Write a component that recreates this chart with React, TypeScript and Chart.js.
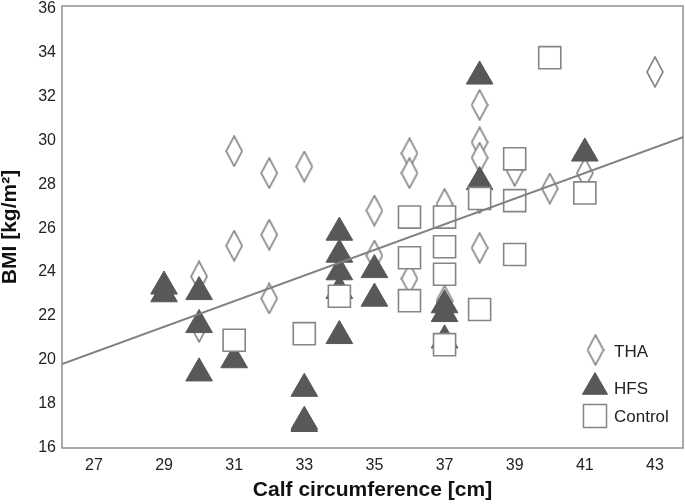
import React, { useEffect, useRef } from 'react';
import { Chart, registerables } from 'chart.js';

Chart.register(...registerables);

// ---- data ----
const xTickValues = [27, 29, 31, 33, 35, 37, 39, 41, 43];
const yTickValues = [16, 18, 20, 22, 24, 26, 28, 30, 32, 34, 36];
const xRange = [26.09, 43.8];
const yRange = [16, 36.1];

const seriesNames = ['THA', 'HFS', 'Control'];

const thaX = [30, 30, 31, 31, 32, 32, 32, 33, 35, 35, 36, 36, 36, 37, 37, 38, 38, 38, 38, 38, 39, 40, 41, 43];
const thaY = [23.8, 21.5, 29.5, 25.2, 28.5, 25.7, 22.8, 28.8, 26.8, 24.75, 29.4, 28.5, 23.7, 27.1, 22.7, 31.6, 29.9, 29.2, 27.35, 25.1, 28.6, 27.8, 28.5, 33.1];

const hfsX = [29, 29, 30, 30, 30, 31, 33, 33, 33, 34, 34, 34, 34, 34, 35, 35, 37, 37, 37, 38, 38, 41];
const hfsY = [23.35, 23.0, 23.1, 21.6, 19.4, 20.0, 18.7, 17.2, 17.1, 25.8, 24.8, 24.0, 23.15, 21.1, 24.1, 22.8, 22.5, 22.1, 20.9, 32.9, 28.1, 29.4];

const controlX = [31, 33, 34, 36, 36, 36, 37, 37, 37, 37, 38, 38, 39, 39, 39, 40, 41];
const controlY = [20.9, 21.2, 22.9, 26.5, 24.65, 22.7, 26.5, 25.15, 23.9, 20.7, 27.35, 22.3, 29.15, 27.25, 24.8, 33.75, 27.6];

const fitX = [26.09, 43.8];
const fitY = [19.82, 30.13];

const xTitle = 'Calf circumference [cm]';
const yTitle = 'BMI [kg/m²]';

// ---- styles ----
const FONT = "'Liberation Sans', Arial, sans-serif";
const MARK_GRAY = '#858585';
const TRI_FILL = '#585858';
const TEXT = '#222222';

function toPoints(xs: number[], ys: number[]) {
  return xs.map((x, i) => ({ x, y: ys[i] }));
}

function makeDiamond(w: number, h: number): HTMLCanvasElement {
  const c = document.createElement('canvas');
  c.width = w;
  c.height = h;
  const g = c.getContext('2d')!;
  g.beginPath();
  g.moveTo(w / 2, 1);
  g.lineTo(w - 1, h / 2);
  g.lineTo(w / 2, h - 1);
  g.lineTo(1, h / 2);
  g.closePath();
  g.fillStyle = '#ffffff';
  g.fill();
  g.lineWidth = 1.6;
  g.strokeStyle = MARK_GRAY;
  g.stroke();
  return c;
}

export default function App() {
  const ref = useRef<HTMLCanvasElement | null>(null);

  useEffect(() => {
    document.body.style.margin = '0';
    const canvas = ref.current;
    if (!canvas) return;
    const diamond = makeDiamond(18, 32);

    const framePlugin = {
      id: 'frame',
      beforeDatasetsDraw(chart: any) {
        const { ctx, chartArea } = chart;
        const { left, top, right, bottom } = chartArea;
        ctx.save();
        ctx.strokeStyle = '#8f8f8f';
        ctx.lineWidth = 1.5;
        ctx.strokeRect(left, top, right - left, bottom - top);
        ctx.restore();
      },
    };

    const legendPlugin = {
      id: 'innerLegend',
      afterDraw(chart: any) {
        const { ctx, chartArea } = chart;
        const mx = chartArea.right - 88;
        const tx = chartArea.right - 69;
        const rows = [chartArea.bottom - 98, chartArea.bottom - 63, chartArea.bottom - 33];
        ctx.save();
        // diamond
        ctx.drawImage(diamond, mx - 9 + 0.5, rows[0] - 16);
        // triangle
        const r = 14.5;
        const cy = rows[1] + 2;
        ctx.beginPath();
        ctx.moveTo(mx, cy - r);
        ctx.lineTo(mx + 0.866 * r, cy + r / 2);
        ctx.lineTo(mx - 0.866 * r, cy + r / 2);
        ctx.closePath();
        ctx.fillStyle = TRI_FILL;
        ctx.fill();
        ctx.strokeStyle = TRI_FILL;
        ctx.lineWidth = 1;
        ctx.stroke();
        // square
        const s = 23;
        ctx.fillStyle = '#ffffff';
        ctx.fillRect(mx - s / 2, rows[2] - s / 2 + 1, s, s);
        ctx.strokeStyle = MARK_GRAY;
        ctx.lineWidth = 1.5;
        ctx.strokeRect(mx - s / 2, rows[2] - s / 2 + 1, s, s);
        // labels
        ctx.fillStyle = TEXT;
        ctx.font = `17px ${FONT}`;
        ctx.textAlign = 'left';
        ctx.textBaseline = 'middle';
        ctx.fillText(seriesNames[0], tx, rows[0] + 2);
        ctx.fillText(seriesNames[1], tx, rows[1] + 4);
        ctx.fillText(seriesNames[2], tx, rows[2] + 2);
        ctx.restore();
      },
    };

    const chart = new Chart(canvas, {
      type: 'scatter',
      data: {
        datasets: [
          {
            type: 'line',
            label: 'fit',
            data: toPoints(fitX, fitY),
            borderColor: '#808080',
            borderWidth: 2,
            pointRadius: 0,
            fill: false,
            order: 0,
          } as any,
          {
            label: seriesNames[2],
            data: toPoints(controlX, controlY),
            pointStyle: 'rect',
            pointRadius: 15.6,
            backgroundColor: '#ffffff',
            borderColor: MARK_GRAY,
            borderWidth: 1.6,
            order: 1,
          },
          {
            label: seriesNames[1],
            data: toPoints(hfsX, hfsY),
            pointStyle: 'triangle',
            pointRadius: 15.4,
            backgroundColor: TRI_FILL,
            borderColor: TRI_FILL,
            borderWidth: 1,
            order: 2,
          },
          {
            label: seriesNames[0],
            data: toPoints(thaX, thaY),
            pointStyle: diamond as any,
            pointRadius: 15,
            order: 3,
          },
        ],
      },
      options: {
        responsive: false,
        animation: false,
        devicePixelRatio: 1,
        layout: { autoPadding: false, padding: { top: 6, right: 2, left: 0, bottom: 0 } },
        plugins: {
          legend: { display: false },
          tooltip: { enabled: false },
        },
        scales: {
          x: {
            type: 'linear',
            min: xRange[0],
            max: xRange[1],
            grid: { display: false, drawTicks: false },
            border: { display: false },
            ticks: { font: { size: 16, family: FONT }, color: TEXT, padding: 8 },
            title: {
              display: true,
              text: xTitle,
              color: '#111111',
              font: { size: 21, weight: 'bold', family: FONT, lineHeight: 1 },
              padding: { top: 0, bottom: 3 },
            },
            afterBuildTicks: (s: any) => {
              s.ticks = xTickValues.map((v) => ({ value: v }));
            },
            afterFit: (s: any) => {
              s.height = 56;
              s.paddingLeft = 0;
              s.paddingRight = 0;
            },
          },
          y: {
            type: 'linear',
            min: yRange[0],
            max: yRange[1],
            grid: { display: false, drawTicks: false },
            border: { display: false },
            ticks: { font: { size: 16, family: FONT }, color: TEXT, padding: 6 },
            title: {
              display: true,
              text: yTitle,
              color: '#111111',
              font: { size: 21, weight: 'bold', family: FONT, lineHeight: 1 },
              padding: { top: 0, bottom: 0 },
            },
            afterBuildTicks: (s: any) => {
              s.ticks = yTickValues.map((v) => ({ value: v }));
            },
            afterFit: (s: any) => {
              s.width = 62;
              s.paddingTop = 0;
              s.paddingBottom = 0;
            },
          },
        },
      },
      plugins: [framePlugin, legendPlugin],
    });

    return () => {
      chart.destroy();
    };
  }, []);

  return (
    <div style={{ width: 685, height: 504, background: '#ffffff' }}>
      <canvas ref={ref} width={685} height={504} style={{ display: 'block' }} />
    </div>
  );
}
